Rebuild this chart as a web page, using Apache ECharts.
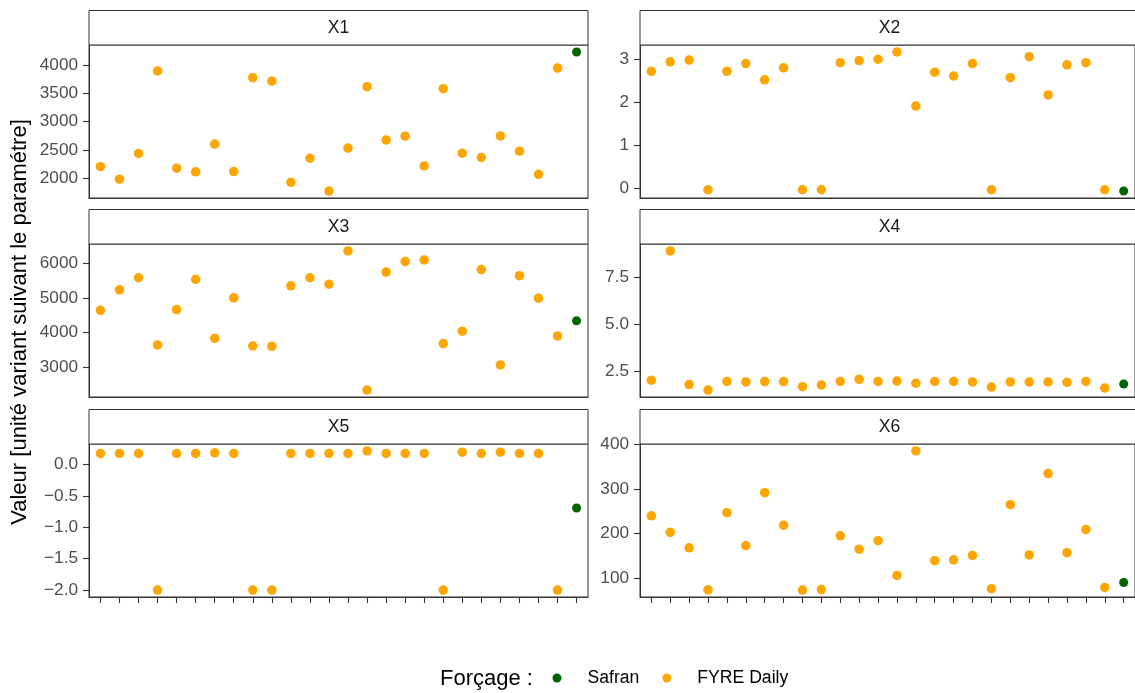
<!DOCTYPE html>
<html><head><meta charset="utf-8">
<script src="https://cdn.jsdelivr.net/npm/echarts@6.0.0/dist/echarts.min.js"></script>
<style>html,body{margin:0;padding:0;background:#fff}#chart{width:1135px;height:693px}</style>
</head><body><div id="chart"></div>
<script>
// ---------- data ----------
const panelNames = ['X1', 'X2', 'X3', 'X4', 'X5', 'X6'];
const seriesNames = ['Safran', 'FYRE Daily'];
// x positions of the 26 members (25 FYRE Daily members, then Safran)
const positions = [1,2,3,4,5,6,7,8,9,10,11,12,13,14,15,16,17,18,19,20,21,22,23,24,25,26];

const fyreX1 = [2200,1980,2435,3895,2175,2110,2600,2115,3775,3715,1925,2350,1770,2530,3615,2675,2740,2215,3580,2440,2365,2745,2475,2065,3945];
const safranX1 = 4230;
const fyreX2 = [2.73,2.95,2.99,-0.03,2.73,2.91,2.53,2.81,-0.03,-0.03,2.93,2.98,3.01,3.18,1.92,2.71,2.62,2.91,-0.03,2.58,3.07,2.18,2.88,2.93,-0.03];
const safranX2 = -0.06;
const fyreX3 = [4640,5230,5575,3645,4660,5530,3835,5000,3615,3605,5345,5575,5390,6345,2350,5740,6040,6085,3685,4040,5810,3070,5635,4990,3905];
const safranX3 = 4340;
const fyreX4 = [2.04,8.90,1.81,1.52,1.98,1.95,1.97,1.97,1.70,1.79,1.98,2.09,1.98,2.00,1.88,1.98,1.98,1.95,1.68,1.95,1.95,1.95,1.93,1.98,1.63];
const safranX4 = 1.84;
const fyreX5 = [0.18,0.18,0.18,-2.0,0.18,0.18,0.19,0.18,-2.0,-2.0,0.18,0.18,0.18,0.18,0.22,0.18,0.18,0.18,-2.0,0.20,0.18,0.20,0.18,0.18,-2.0];
const safranX5 = -0.69;
const fyreX6 = [240,203,168,73.5,247,173,292,219,73,74,195,165,184,106,386,139,141,151,76,265,152,335,157,209,79];
const safranX6 = 90;

const ticksX1 = [2000,2500,3000,3500,4000];
const ticksX2 = [0,1,2,3];
const ticksX3 = [3000,4000,5000,6000];
const ticksX4 = [2.5,5.0,7.5];
const ticksX5 = [-2.0,-1.5,-1.0,-0.5,0.0];
const ticksX6 = [100,200,300,400];
const tickDecimals = [0,0,0,1,1,0];

const yTitle = 'Valeur [unité variant suivant le paramétre]';
const legendTitle = 'Forçage :';

// ---------- layout ----------
const FONT = 'Liberation Sans';
const colLeft = [89, 640];
const panelW = 499;
const rowTop = [45, 244, 444];
const panelH = 153;
const stripH = 34.5;
const ORANGE = '#FFA500', GREEN = '#006400', DARK = '#333333';

const fyre = [fyreX1, fyreX2, fyreX3, fyreX4, fyreX5, fyreX6];
const safran = [safranX1, safranX2, safranX3, safranX4, safranX5, safranX6];
const ticks = [ticksX1, ticksX2, ticksX3, ticksX4, ticksX5, ticksX6];

const grids = [], xAxes = [], yAxes = [], series = [], graphics = [];
panelNames.forEach((name, i) => {
  const col = i % 2, row = Math.floor(i / 2);
  const left = colLeft[col], top = rowTop[row];
  grids.push({left: left, top: top, width: panelW, height: panelH, show: true,
    borderColor: DARK, borderWidth: 1, backgroundColor: '#fff', containLabel: false});
  const bottomRow = row === 2;
  xAxes.push({type: 'value', gridIndex: i, min: 0.4, max: 26.6, position: 'bottom',
    axisLine: {show: true, onZero: false, lineStyle: {color: DARK, width: 1}},
    axisTick: {show: bottomRow, inside: false, length: 6, lineStyle: {color: DARK, width: 1.1}, customValues: positions},
    axisLabel: {show: false, customValues: positions},
    splitLine: {show: false}});
  const all = fyre[i].concat([safran[i]]);
  const lo = Math.min(...all), hi = Math.max(...all), r = hi - lo;
  const dec = tickDecimals[i];
  yAxes.push({type: 'value', gridIndex: i, min: lo - 0.05 * r, max: hi + 0.05 * r, position: 'left',
    axisLine: {show: true, onZero: false, lineStyle: {color: DARK, width: 1}},
    axisTick: {show: true, inside: false, length: 6, lineStyle: {color: DARK, width: 1.1}, customValues: ticks[i]},
    axisLabel: {show: true, margin: 11, color: '#4D4D4D', fontSize: 17.2, fontFamily: FONT,
      customValues: ticks[i],
      formatter: v => Number(v).toFixed(dec).replace('-', '\u2212')},
    splitLine: {show: false}});
  series.push({type: 'scatter', name: 'FYRE Daily', xAxisIndex: i, yAxisIndex: i,
    symbol: 'circle', symbolSize: 9.5, itemStyle: {color: ORANGE, opacity: 1},
    data: fyre[i].map((v, k) => [positions[k], v]), silent: true});
  series.push({type: 'scatter', name: 'Safran', xAxisIndex: i, yAxisIndex: i,
    symbol: 'circle', symbolSize: 9, itemStyle: {color: GREEN, opacity: 1},
    data: [[positions[25], safran[i]]], silent: true});
  graphics.push({type: 'rect', shape: {x: left, y: top - stripH, width: panelW, height: stripH},
    style: {fill: '#fff', stroke: DARK, lineWidth: 1}, z: 1});
  graphics.push({type: 'text', x: left + panelW / 2, y: top - stripH / 2,
    style: {text: name, fill: '#1A1A1A', fontSize: 17.6, fontFamily: FONT, align: 'center', verticalAlign: 'middle'}, z: 2});
});

graphics.push({type: 'text', x: 20, y: 322, rotation: Math.PI / 2,
  style: {text: yTitle, fill: '#000', fontSize: 22, fontFamily: FONT, align: 'center', verticalAlign: 'middle'}});
graphics.push({type: 'text', x: 440, y: 679,
  style: {text: legendTitle, fill: '#000', fontSize: 22, fontFamily: FONT, align: 'left', verticalAlign: 'middle'}});

const chart = echarts.init(document.getElementById('chart'), null, {renderer: 'canvas'});
chart.setOption({
  animation: false,
  backgroundColor: '#fff',
  grid: grids,
  xAxis: xAxes,
  yAxis: yAxes,
  series: series,
  graphic: graphics,
  legend: {data: seriesNames, left: 552.5, top: 669, padding: 0, itemGap: 23,
    itemWidth: 9, itemHeight: 9, icon: 'circle', selectedMode: false,
    textStyle: {fontSize: 17.6, color: '#000', fontFamily: FONT, padding: [0, 0, 0, 21]}}
});
</script>
</body></html>
